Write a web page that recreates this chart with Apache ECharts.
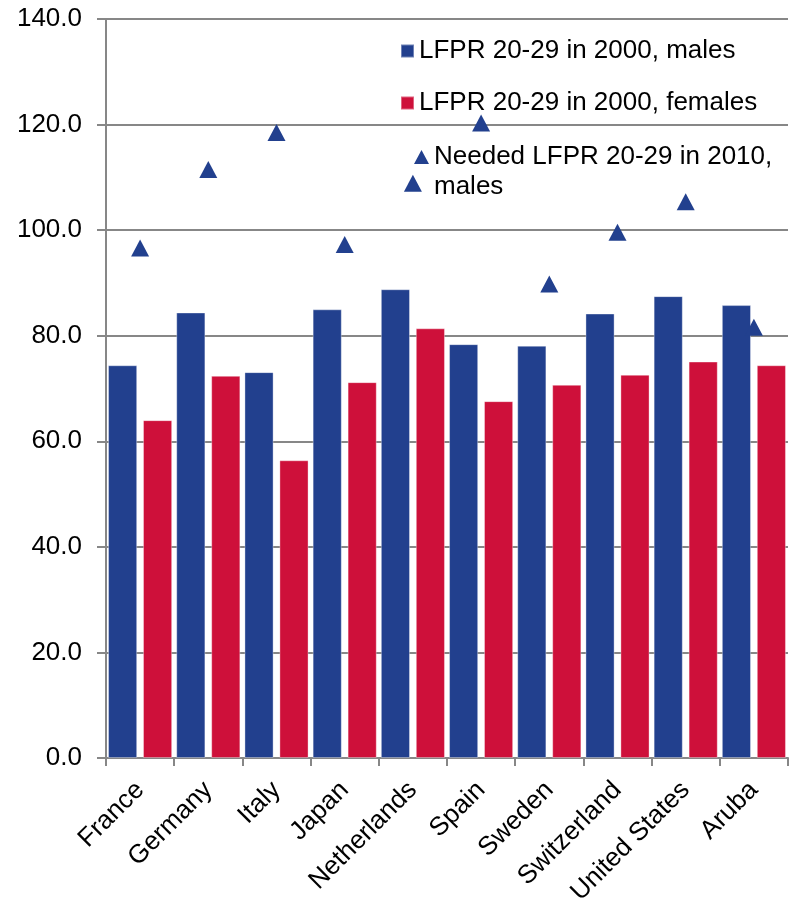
<!DOCTYPE html>
<html>
<head>
<meta charset="utf-8">
<script src="https://cdn.jsdelivr.net/npm/echarts@6/dist/echarts.min.js"></script>
<style>
  html, body { margin: 0; padding: 0; background: #fff; }
  #chart { width: 798px; height: 900px; }
</style>
</head>
<body>
<div id="chart"></div>
<script>
// Labour force participation rates, ages 20-29
const countries = ['France', 'Germany', 'Italy', 'Japan', 'Netherlands', 'Spain', 'Sweden', 'Switzerland', 'United States', 'Aruba'];
const males2000 = [74.4, 84.4, 73.1, 85.0, 88.8, 78.4, 78.1, 84.2, 87.5, 85.8];
const females2000 = [64.0, 72.4, 56.4, 71.2, 81.4, 67.6, 70.7, 72.6, 75.1, 74.4];
const neededMales2010 = [96.6, 111.5, 118.5, 97.3, 108.9, 120.3, 89.8, 99.6, 105.4, 81.6];

const seriesNames = [
  'LFPR 20-29 in 2000, males',
  'LFPR 20-29 in 2000, females',
  'Needed LFPR 20-29 in 2010,\nmales'
];

const BLUE = '#22408E';
const RED = '#CE103A';
const GRID = '#878787';
const FONT = 'Liberation Sans, Arial, sans-serif';
const FS = 26;

const chart = echarts.init(document.getElementById('chart'), null, { renderer: 'canvas' });

chart.setOption({
  animation: false,
  backgroundColor: '#ffffff',
  textStyle: { fontFamily: FONT },
  grid: {
    left: 106, right: 10, top: 19, bottom: 142,
    containLabel: false,
    outerBoundsMode: 'none'
  },
  legend: [
    {
      data: [seriesNames[0], seriesNames[1]],
      orient: 'vertical',
      left: 395,
      top: 31,
      itemGap: 22,
      itemWidth: 13,
      itemHeight: 13,
      icon: 'rect',
      textStyle: { fontFamily: FONT, fontSize: FS, color: '#000', lineHeight: 30 }
    },
    {
      data: [seriesNames[2]],
      orient: 'vertical',
      left: 409,
      top: 137,
      itemWidth: 15,
      itemHeight: 44,
      // triangle sits level with the first line of the two-line label
      icon: 'path://M7.5,0 L15,14 L0,14 Z M7.5,43.99 L7.51,43.99 L7.51,44 Z',
      textStyle: { fontFamily: FONT, fontSize: FS, color: '#000', lineHeight: 30 }
    }
  ],
  xAxis: {
    type: 'category',
    data: countries,
    boundaryGap: true,
    axisLine: { show: true, lineStyle: { color: GRID, width: 2 } },
    axisTick: { show: true, length: 8, lineStyle: { color: GRID, width: 2 } },
    axisLabel: {
      rotate: 45,
      margin: 28,
      interval: 0,
      fontFamily: FONT,
      fontSize: FS,
      color: '#000'
    },
    splitLine: { show: false }
  },
  yAxis: {
    type: 'value',
    min: 0,
    max: 140,
    interval: 20,
    axisLine: { show: true, lineStyle: { color: GRID, width: 2 } },
    axisTick: { show: true, length: 9, lineStyle: { color: GRID, width: 2 } },
    axisLabel: {
      margin: 24,
      fontFamily: FONT,
      fontSize: FS,
      color: '#000',
      formatter: v => v.toFixed(1)
    },
    splitLine: { show: true, lineStyle: { color: GRID, width: 2 } }
  },
  series: [
    {
      name: seriesNames[0],
      type: 'bar',
      data: males2000,
      barGap: '20%',
      barCategoryGap: '6%',
      itemStyle: { color: BLUE, borderColor: 'rgba(255,255,255,0.35)', borderWidth: 1 }
    },
    {
      name: seriesNames[1],
      type: 'bar',
      data: females2000,
      barGap: '20%',
      barCategoryGap: '6%',
      itemStyle: { color: RED, borderColor: 'rgba(255,255,255,0.35)', borderWidth: 1 }
    },
    {
      name: seriesNames[2],
      type: 'scatter',
      data: neededMales2010,
      symbol: 'triangle',
      symbolSize: [18, 17],
      itemStyle: { color: BLUE, opacity: 1 },
      z: 5
    }
  ]
});
</script>
</body>
</html>
